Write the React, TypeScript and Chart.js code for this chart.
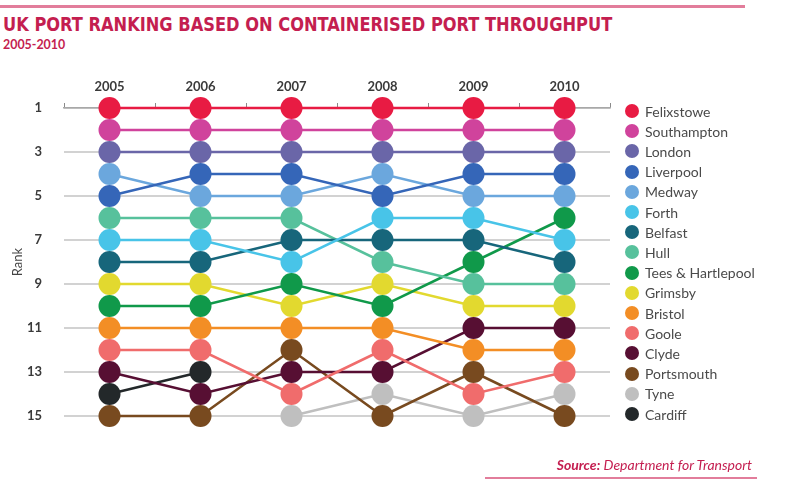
import React, { useEffect, useLayoutEffect, useRef, useState } from "react";
import { Chart, registerables } from "chart.js";
Chart.register(...registerables);

const years = ["2005", "2006", "2007", "2008", "2009", "2010"];
const yTicks = [1, 3, 5, 7, 9, 11, 13, 15];

const ports = [
  "Felixstowe", "Southampton", "London", "Liverpool", "Medway", "Forth", "Belfast", "Hull",
  "Tees & Hartlepool", "Grimsby", "Bristol", "Goole", "Clyde", "Portsmouth", "Tyne", "Cardiff",
];
const colors = [
  "#e81b43", "#d0439c", "#6a66a8", "#3566b8", "#6ba7dd", "#48c4e8", "#17667b", "#57c19c",
  "#10994a", "#e2d92f", "#f38e25", "#f06c6c", "#570f33", "#784a1f", "#bfbfbf", "#23282a",
];
const felixstowe = [1, 1, 1, 1, 1, 1];
const southampton = [2, 2, 2, 2, 2, 2];
const london = [3, 3, 3, 3, 3, 3];
const liverpool = [5, 4, 4, 5, 4, 4];
const medway = [4, 5, 5, 4, 5, 5];
const forth = [7, 7, 8, 6, 6, 7];
const belfast = [8, 8, 7, 7, 7, 8];
const hull = [6, 6, 6, 8, 9, 9];
const tees = [10, 10, 9, 10, 8, 6];
const grimsby = [9, 9, 10, 9, 10, 10];
const bristol = [11, 11, 11, 11, 12, 12];
const goole = [12, 12, 14, 12, 14, 13];
const clyde = [13, 14, 13, 13, 11, 11];
const portsmouth = [15, 15, 12, 15, 13, 15];
const tyne = [null, null, 15, 14, 15, 14];
const cardiff = [14, 13, null, null, null, null];
const series = [
  felixstowe, southampton, london, liverpool, medway, forth, belfast, hull,
  tees, grimsby, bristol, goole, clyde, portsmouth, tyne, cardiff,
];

const CRIMSON = "#c41e50";
const PINK = "#e27d9b";

function FitText({ text, width, style, children }: any) {
  const ref = useRef<HTMLSpanElement>(null);
  const [sx, setSx] = useState(1);
  useLayoutEffect(() => {
    if (ref.current) {
      const w = ref.current.offsetWidth;
      if (w > 0) setSx(width / w);
    }
  }, [width]);
  return (
    <span
      ref={ref}
      style={{
        display: "inline-block",
        whiteSpace: "nowrap",
        transform: `scaleX(${sx})`,
        transformOrigin: "left center",
        ...style,
      }}
    >
      {children || text}
    </span>
  );
}

export default function App() {
  const canvasRef = useRef<HTMLCanvasElement>(null);

  useEffect(() => {
    document.body.style.margin = "0";
    const ctx = canvasRef.current!.getContext("2d")!;
    const tickFont = { family: "Lato, 'Open Sans', sans-serif", size: 13, weight: "bold" as const };
    const chart = new Chart(ctx, {
      type: "line",
      data: {
        labels: years,
        datasets: ports.map((p, i) => ({
          label: p,
          data: series[i] as any,
          borderColor: colors[i],
          backgroundColor: colors[i],
          pointBackgroundColor: colors[i],
          pointBorderColor: colors[i],
          pointBorderWidth: 0,
          pointRadius: 11,
          pointHoverRadius: 11,
          borderWidth: 2.5,
          spanGaps: false,
          clip: false as any,
          tension: 0,
        })),
      },
      options: {
        animation: false,
        responsive: false,
        maintainAspectRatio: false,
        layout: { padding: { left: 0, top: 0, right: 180, bottom: 73 } },
        plugins: { legend: { display: false }, tooltip: { enabled: false }, title: { display: false } },
        scales: {
          x: {
            type: "category",
            position: "top",
            offset: true,
            grid: { offset: true, drawOnChartArea: false, drawTicks: true, tickLength: 5, color: "#8a8a8a", lineWidth: 1 },
            border: { display: true, color: "#a8a8a8", width: 1.5 },
            ticks: { font: tickFont, color: "#3a3a3a", padding: 8 },
            afterFit: (s: any) => {
              s.height = 108;
            },
          },
          y: {
            type: "linear",
            reverse: true,
            min: 1,
            max: 15,
            afterBuildTicks: (s: any) => {
              s.ticks = yTicks.map((v) => ({ value: v }));
            },
            grid: { color: "#d2d2d2", lineWidth: 2, drawTicks: false },
            border: { display: false },
            ticks: { font: tickFont, color: "#3a3a3a", padding: 22 },
            title: {
              display: true,
              text: "Rank",
              color: "#444",
              font: { family: "Lato, 'Open Sans', sans-serif", size: 13 },
              padding: { top: 10, bottom: 0 },
            },
            afterFit: (s: any) => {
              s.width = 64;
            },
          },
        },
      } as any,
    });
    return () => chart.destroy();
  }, []);

  return (
    <div style={{ position: "relative", width: 790, height: 489, background: "#fff", overflow: "hidden" }}>
      <div style={{ position: "absolute", left: 0, top: 5, width: 745, height: 3, background: PINK }} />
      <div style={{ position: "absolute", left: 3, top: 12, lineHeight: "24px" }}>
        <FitText
          width={609}
          text="UK PORT RANKING BASED ON CONTAINERISED PORT THROUGHPUT"
          style={{ fontFamily: "'Liberation Sans Narrow', 'DejaVu Sans Condensed', sans-serif", fontWeight: 700, fontSize: 20, color: CRIMSON }}
        />
      </div>
      <div style={{ position: "absolute", left: 3, top: 35, lineHeight: "18px" }}>
        <FitText
          width={62}
          text="2005-2010"
          style={{ fontFamily: "Lato, 'Open Sans', sans-serif", fontWeight: 700, fontSize: 14, color: CRIMSON }}
        />
      </div>
      <canvas ref={canvasRef} width={790} height={489} style={{ position: "absolute", left: 0, top: 0, width: 790, height: 489 }} />
      {ports.map((p, i) => (
        <div
          key={p}
          style={{
            position: "absolute",
            left: 625,
            top: 111 + i * 20.2 - 10,
            height: 20,
            display: "flex",
            alignItems: "center",
            fontFamily: "Lato, 'Open Sans', sans-serif",
            fontSize: 14,
            color: "#4a4a4a",
            whiteSpace: "nowrap",
          }}
        >
          <span style={{ width: 14, height: 14, borderRadius: 7, background: colors[i], display: "inline-block", marginRight: 6 }} />
          <span>{p}</span>
        </div>
      ))}
      <div style={{ position: "absolute", right: 790 - 752, top: 455, lineHeight: "20px", textAlign: "right" }}>
        <span style={{ fontFamily: "Lato, 'Open Sans', sans-serif", fontStyle: "italic", fontSize: 14, color: CRIMSON, whiteSpace: "nowrap" }}>
          <b>Source:</b> Department for Transport
        </span>
      </div>
      <div style={{ position: "absolute", left: 485, top: 477, width: 272, height: 2, background: PINK }} />
    </div>
  );
}
